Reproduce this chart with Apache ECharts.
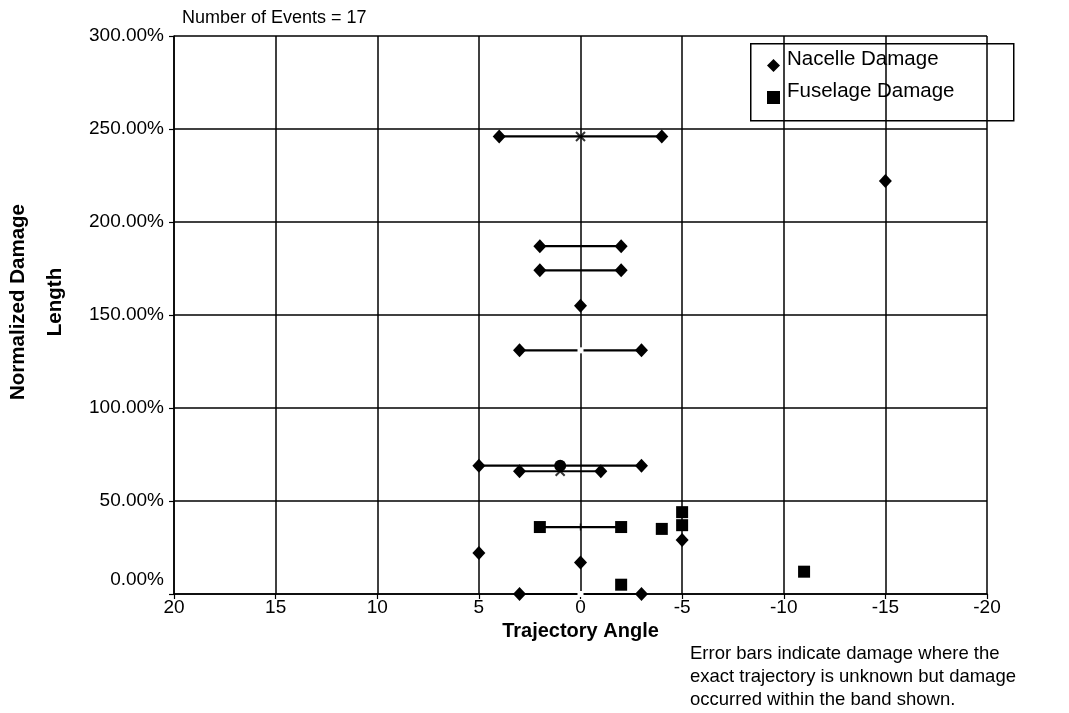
<!DOCTYPE html>
<html>
<head>
<meta charset="utf-8">
<script src="https://cdn.jsdelivr.net/npm/echarts@6/dist/echarts.min.js"></script>
<style>
html,body{margin:0;padding:0;background:#fff;}
#chart{width:1069px;height:713px;}
</style>
</head>
<body>
<div id="chart"></div>
<script>
// ---- data (trajectory angle, normalized damage length in %) ----
const nacellePoints = [[4,246],[-4,246],[2,187],[-2,187],[2,174],[-2,174],[0,155],[3,131],[-3,131],
  [5,69],[-3,69],[3,66],[-1,66],[5,22],[0,17],[3,0],[-3,0],[-5,29],[-15,222]];
const fuselagePoints = [[2,36],[-2,36],[-4,35],[-5,44],[-5,37],[-2,5],[-11,12]];
// error bands: [high angle, low angle, damage]
const errorBands = [[4,-4,246],[2,-2,187],[2,-2,174],[3,-3,131],[5,-3,69],[3,-1,66],[2,-2,36],[3,-3,0]];
const crossCenters = [[0,246],[1,66]];
const circleCenters = [[1,69]];
const plusCenters = [[0,36]];
const blankCenters = [[0,131],[0,0]];
const xTicks = [-20,20,5];
const yTicks = [0,300,50];

const FONT = '"Liberation Sans", Arial, sans-serif';
const chart = echarts.init(document.getElementById('chart'));
const option = {
  backgroundColor:'#fff',
  animation:false,
  grid:{left:174,right:82,top:36,bottom:119,containLabel:false},
  xAxis:{
    type:'value', min:xTicks[0], max:xTicks[1], interval:xTicks[2], inverse:true,
    name:'Trajectory Angle', nameLocation:'middle', nameGap:27,
    nameTextStyle:{fontFamily:FONT,fontSize:20,fontWeight:'bold',color:'#000'},
    axisLine:{show:true,onZero:false,lineStyle:{color:'#000',width:1.5}},
    axisTick:{show:true,length:5,lineStyle:{color:'#000',width:1.2}},
    axisLabel:{fontFamily:FONT,fontSize:19,color:'#000',margin:4},
    splitLine:{show:true,lineStyle:{color:'#000',width:1.5}}
  },
  yAxis:{
    type:'value', min:yTicks[0], max:yTicks[1], interval:yTicks[2],
    axisLine:{show:true,onZero:false,lineStyle:{color:'#000',width:1.5}},
    axisTick:{show:true,length:5,lineStyle:{color:'#000',width:1.2}},
    axisLabel:{fontFamily:FONT,fontSize:19,color:'#000',margin:10,
      formatter:function(v){ return v===0 ? '{z|0.00%}' : v.toFixed(2)+'%'; },
      rich:{z:{fontFamily:FONT,fontSize:19,color:'#000',padding:[0,0,28,0]}}},
    splitLine:{show:true,lineStyle:{color:'#000',width:1.5}}
  },
  legend:{
    orient:'vertical', left:762, top:44, itemWidth:13, itemHeight:13, itemGap:9,
    formatter:'{a|{name}}',
    textStyle:{fontFamily:FONT,fontSize:20.5,color:'#000',
      rich:{a:{fontFamily:FONT,fontSize:20.5,color:'#000',padding:[0,0,12,2]}}},
    data:[{name:'Nacelle Damage',icon:'diamond'},{name:'Fuselage Damage',icon:'rect'}]
  },
  graphic:[
    {type:'rect',left:750,top:43,shape:{width:263,height:77},style:{fill:'#fff',stroke:'#000',lineWidth:1.5},z:-1,silent:true},
    {type:'text',x:182,y:18,style:{text:'Number of Events = 17',font:'18px '+FONT,fill:'#000',textVerticalAlign:'middle'}},
    {type:'text',x:37,y:302,rotation:Math.PI/2,style:{text:'Normalized Damage\nLength',font:'bold 20.5px '+FONT,fill:'#000',textAlign:'center',textVerticalAlign:'middle',lineHeight:37}},
    {type:'text',x:690,y:642,style:{text:'Error bars indicate damage where the\nexact trajectory is unknown but damage\noccurred within the band shown.',font:'18.5px '+FONT,fill:'#000',lineHeight:23}}
  ],
  series:[
    {type:'custom', name:'bands', z:2, data:errorBands, encode:{x:[0,1],y:2},
      renderItem:function(params,api){
        const p1 = api.coord([api.value(0),api.value(2)]);
        const p2 = api.coord([api.value(1),api.value(2)]);
        return {type:'line',shape:{x1:p1[0],y1:p1[1],x2:p2[0],y2:p2[1]},style:{stroke:'#000',lineWidth:2.2}};
      }},
    {type:'scatter', name:'Nacelle Damage', z:4, symbol:'diamond', symbolSize:[13,14], data:nacellePoints, itemStyle:{color:'#000',opacity:1}},
    {type:'scatter', name:'Fuselage Damage', z:4, symbol:'rect', symbolSize:12, data:fuselagePoints, itemStyle:{color:'#000',opacity:1}},
    {type:'scatter', name:'cross', z:5, symbol:'path://M0,0L10,10M10,0L0,10', symbolSize:9, data:crossCenters, itemStyle:{color:'none',borderColor:'#000',borderWidth:2}},
    {type:'scatter', name:'circle', z:5, symbol:'circle', symbolSize:12, data:circleCenters, itemStyle:{color:'#000',opacity:1}},
    {type:'scatter', name:'plus', z:5, symbol:'path://M5,0L5,10M0,5L10,5', symbolSize:7, data:plusCenters, itemStyle:{color:'none',borderColor:'#000',borderWidth:1.5}},
    {type:'scatter', name:'blank', z:5, symbol:'rect', symbolSize:6, data:blankCenters, itemStyle:{color:'#fff',opacity:1}}
  ]
};
chart.setOption(option);
</script>
</body>
</html>
